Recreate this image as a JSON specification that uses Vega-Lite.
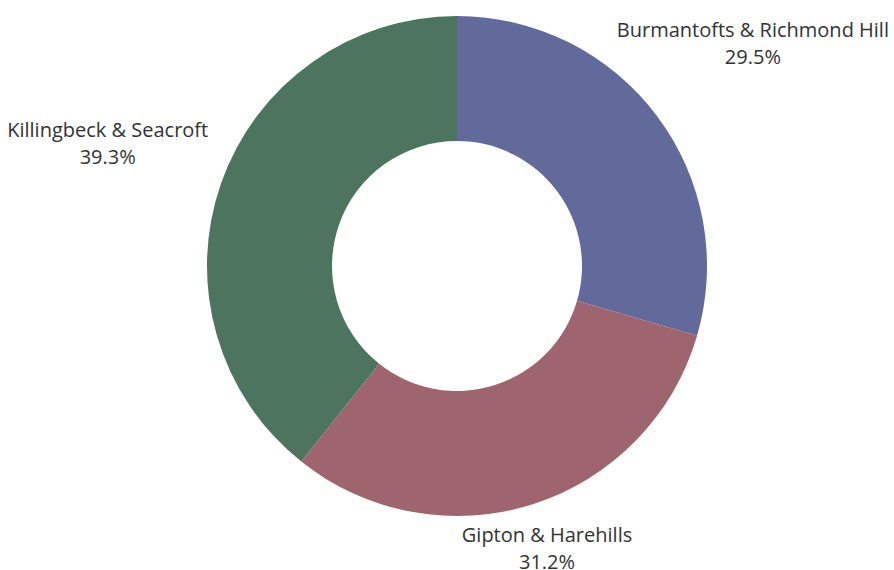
{
  "$schema": "https://vega.github.io/schema/vega-lite/v6.json",
  "width": 874,
  "height": 532,
  "autosize": {"type": "none"},
  "padding": {"left": 20, "top": 0, "right": 0, "bottom": 38},
  "background": "white",
  "config": {"view": {"stroke": null}},
  "data": {
    "values": [
      {"ward": "Burmantofts & Richmond Hill", "share": 29.5},
      {"ward": "Gipton & Harehills", "share": 31.2},
      {"ward": "Killingbeck & Seacroft", "share": 39.3}
    ]
  },
  "transform": [
    {"calculate": "datum.ward + '\\n' + format(datum.share, '.1f') + '%'", "as": "label"}
  ],
  "encoding": {
    "theta": {"field": "share", "type": "quantitative", "stack": true},
    "order": {"field": "ward", "sort": "ascending"}
  },
  "layer": [
    {
      "mark": {"type": "arc", "outerRadius": 250, "innerRadius": 125, "stroke": null},
      "encoding": {
        "color": {
          "field": "ward",
          "type": "nominal",
          "scale": {
            "domain": ["Burmantofts & Richmond Hill", "Gipton & Harehills", "Killingbeck & Seacroft"],
            "range": ["#626a9b", "#9e656e", "#4c745e"]
          },
          "legend": null
        }
      }
    },
    {
      "mark": {"type": "text", "radius": 370, "dy": -13, "font": "Open Sans", "fontSize": 20, "color": "#333333", "lineBreak": "\n", "lineHeight": 27, "align": "center", "baseline": "middle"},
      "encoding": {
        "text": {"condition": {"test": "datum.ward !== 'Gipton & Harehills'", "field": "label"}, "value": ""}
      }
    },
    {
      "mark": {"type": "text", "radius": 297, "dy": -13, "font": "Open Sans", "fontSize": 20, "color": "#333333", "lineBreak": "\n", "lineHeight": 27, "align": "center", "baseline": "middle"},
      "encoding": {
        "text": {"condition": {"test": "datum.ward === 'Gipton & Harehills'", "field": "label"}, "value": ""}
      }
    }
  ]
}
